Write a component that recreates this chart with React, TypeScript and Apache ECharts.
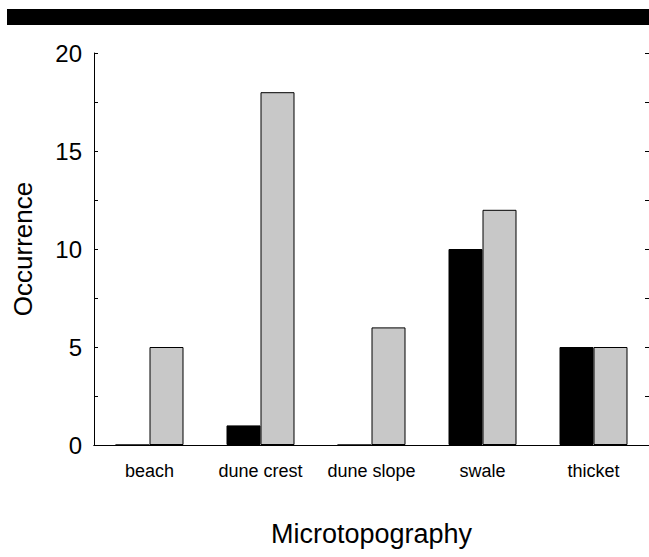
import React, { useEffect, useRef } from "react";
import * as echarts from "echarts";

const categories = ["beach", "dune crest", "dune slope", "swale", "thicket"];
const blackValues = [0, 1, 0, 10, 5];
const grayValues = [5, 18, 6, 12, 5];
const yTickLabels = ["0", "5", "10", "15", "20"];

export default function App() {
  const ref = useRef<HTMLDivElement>(null);
  useEffect(() => {
    if (!ref.current) return;
    const chart = echarts.init(ref.current, null, { renderer: "svg" });
    const font = "Arial, 'Liberation Sans', sans-serif";
    chart.setOption({
      animation: false,
      backgroundColor: "#ffffff",
      textStyle: { fontFamily: font, color: "#000" },
      graphic: [
        {
          type: "rect",
          shape: { x: 7, y: 9, width: 642, height: 16 },
          style: { fill: "#000" },
        },
      ],
      grid: {
        left: 94,
        right: -1,
        top: 53,
        bottom: 112,
        show: false,
      },
      xAxis: [
        {
          type: "category",
          data: categories,
          axisLine: { show: true, lineStyle: { color: "#000", width: 1 } },
          axisTick: { show: false },
          axisLabel: {
            color: "#000",
            fontSize: 18,
            fontFamily: font,
            margin: 17,
            interval: 0,
            hideOverlap: false,
          },
          name: "Microtopography",
          nameLocation: "middle",
          nameGap: 75,
          nameTextStyle: { fontSize: 27, color: "#000", fontFamily: font },
        },
        {
          type: "category",
          position: "top",
          data: categories,
          axisLine: { show: true, lineStyle: { color: "#000", width: 1 } },
          axisTick: { show: false },
          axisLabel: { show: false },
        },
      ],
      yAxis: [
        {
          type: "value",
          min: 0,
          max: 20,
          interval: 2.5,
          axisLine: { show: true, lineStyle: { color: "#000", width: 1 } },
          axisTick: { show: true, inside: true, length: 4, lineStyle: { color: "#000" } },
          splitLine: { show: false },
          axisLabel: {
            color: "#000",
            fontSize: 24,
            fontFamily: font,
            margin: 12,
            formatter: (v: number) =>
              yTickLabels.includes(String(v)) ? String(v) : "",
          },
          name: "Occurrence",
          nameLocation: "middle",
          nameGap: 58,
          nameTextStyle: { fontSize: 26, color: "#000", fontFamily: font },
        },
        {
          type: "value",
          position: "right",
          min: 0,
          max: 20,
          interval: 2.5,
          axisLine: { show: false },
          axisTick: { show: true, inside: true, length: 4, lineStyle: { color: "#000" } },
          splitLine: { show: false },
          axisLabel: { show: false },
        },
      ],
      series: [
        {
          type: "bar",
          data: blackValues,
          barWidth: 34,
          barGap: "0%",
          itemStyle: { color: "#000", borderColor: "#000", borderWidth: 1 },
        },
        {
          type: "bar",
          data: grayValues,
          barWidth: 34,
          barGap: "0%",
          itemStyle: { color: "#c8c8c8", borderColor: "#000", borderWidth: 1 },
        },
      ],
    });
    return () => chart.dispose();
  }, []);
  return (
    <div
      ref={ref}
      style={{ position: "fixed", left: 0, top: 0, width: 649, height: 557 }}
    />
  );
}
